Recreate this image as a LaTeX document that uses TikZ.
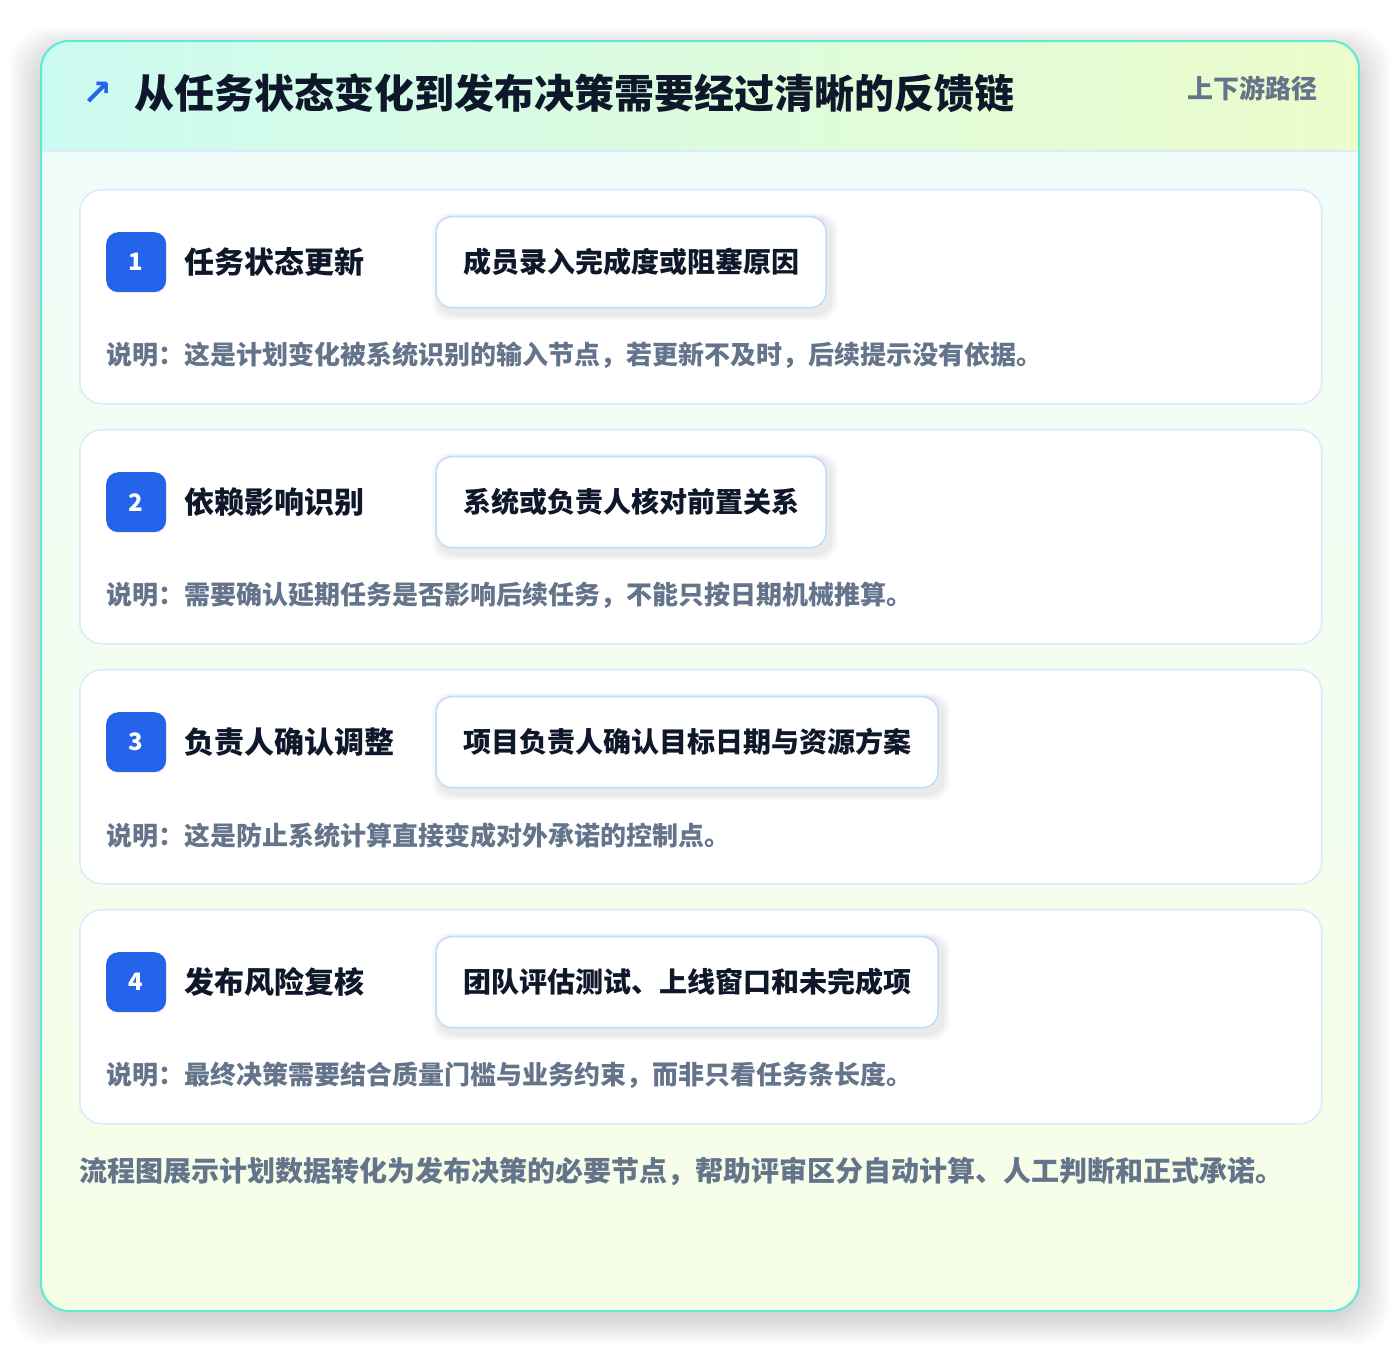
\documentclass[tikz,border=0pt]{standalone}
\usepackage{fontspec}
\setmainfont{Noto Sans CJK SC}
\newfontfamily\symfont{DejaVu Sans}
\usetikzlibrary{positioning}
\pgfdeclarelayer{base}
\pgfdeclarelayer{cards}
\pgfdeclarelayer{shade}
\pgfsetlayers{base,cards,shade,main}
\definecolor{ink}{HTML}{0F172A}
\definecolor{slate}{HTML}{64748B}
\definecolor{brand}{HTML}{2563EB}
\definecolor{rim}{HTML}{5EEAD4}
\definecolor{mint}{HTML}{CCFBF1}
\definecolor{midgreen}{HTML}{DCFCE7}
\definecolor{lime}{HTML}{ECFCCB}
\definecolor{edge}{HTML}{DBEAFE}
\definecolor{chipedge}{HTML}{BFDBFE}
\definecolor{bodytop}{HTML}{F0FDFA}
\definecolor{bodybot}{HTML}{F7FEE7}
\tikzset{
  stepcard/.style={draw=edge, line width=1.5pt, fill=white, rounded corners=22pt,
    minimum width=1242pt, minimum height=214pt, inner sep=0pt, anchor=north west},
  badge/.style={fill=brand, rounded corners=12pt, minimum size=60pt, inner sep=0pt,
    text=white, font=\fontsize{24}{24}\selectfont\bfseries},
  steplabel/.style={text=ink, inner sep=0pt, font=\fontsize{30}{30}\selectfont\bfseries},
  chip/.style={draw=chipedge, line width=1.5pt, fill=white, rounded corners=16pt,
    minimum height=91pt, inner xsep=27pt, inner ysep=0pt, text=ink,
    font=\fontsize{28}{28}\selectfont\bfseries},
  haze/.style={fill=black, opacity=#1},
  note/.style={text=slate, inner sep=0pt, font=\fontsize{26}{26}\selectfont\bfseries},
}
\begin{document}
\begin{tikzpicture}[x=1pt,y=-1pt]
\useasboundingbox (0,0) rectangle (1400,1352);
\begin{pgfonlayer}{base}
\fill[white] (0,0) rectangle (1400,1352);
% soft shadow of the panel
\foreach \s in {1,...,20}
  \fill[haze=0.006, rounded corners=40pt] (41-1.6*\s,41-1.2*\s+10) rectangle (1359+1.6*\s,1311+1.4*\s+6);
% outer panel
\shade[top color=bodytop, bottom color=bodybot, rounded corners=28pt] (41,41) rectangle (1359,1311);
\begin{scope}
\clip[rounded corners=28pt] (41,41) rectangle (1359,1311);
\shade[left color=mint, middle color=midgreen, right color=lime] (41,41) rectangle (1359,151);
\end{scope}
\draw[edge, line width=1.5pt] (41,151) -- (1359,151);
\draw[rim, line width=2pt, rounded corners=28pt] (41,41) rectangle (1359,1311);
\end{pgfonlayer}
% header
\node[text=brand, inner sep=0pt, font=\symfont\fontsize{36}{36}\selectfont\bfseries] (arrow) at (98,94) {↗};
\node[text=ink, inner sep=0pt, anchor=west, font=\fontsize{40}{40}\selectfont\bfseries] (title) at (134,93)
  {从任务状态变化到发布决策需要经过清晰的反馈链};
\node[text=slate, inner sep=0pt, anchor=east, font=\fontsize{26}{26}\selectfont\bfseries] (tag) at (1318,88)
  {上下游路径};
% steps
\foreach \i/\lab/\chiptext/\desc in {
  1/任务状态更新/成员录入完成度或阻塞原因/说明：这是计划变化被系统识别的输入节点，若更新不及时，后续提示没有依据。,
  2/依赖影响识别/系统或负责人核对前置关系/说明：需要确认延期任务是否影响后续任务，不能只按日期机械推算。,
  3/负责人确认调整/项目负责人确认目标日期与资源方案/说明：这是防止系统计算直接变成对外承诺的控制点。,
  4/发布风险复核/团队评估测试、上线窗口和未完成项/说明：最终决策需要结合质量门槛与业务约束，而非只看任务条长度。}
{
  \begin{pgfonlayer}{cards}
  \node[stepcard] (c\i) at (79,{189+240*(\i-1)}) {};
  \end{pgfonlayer}
  \node[badge, below right=43pt and 27pt of c\i.north west] (b\i) {\i};
  \node[steplabel, right=18pt of b\i] (l\i) {\lab};
  \node[chip, right=269pt of b\i] (k\i) {\chiptext};
  \begin{pgfonlayer}{shade}
  \foreach \s in {1,...,7}
    \fill[haze=0.012, rounded corners=18pt] ([shift={(3-\s,1-0.6*\s)}]k\i.north west)
      rectangle ([shift={(4+\s,6+\s)}]k\i.south east);
  \end{pgfonlayer}
  \node[note, below=63pt of b\i.south west, anchor=west] (n\i) {\desc};
}
\node[text=slate, inner sep=0pt, below=47pt of c4.south west, anchor=west,
  font=\fontsize{28}{28}\selectfont\bfseries] (summary)
  {流程图展示计划数据转化为发布决策的必要节点，帮助评审区分自动计算、人工判断和正式承诺。};
\end{tikzpicture}
\end{document}
